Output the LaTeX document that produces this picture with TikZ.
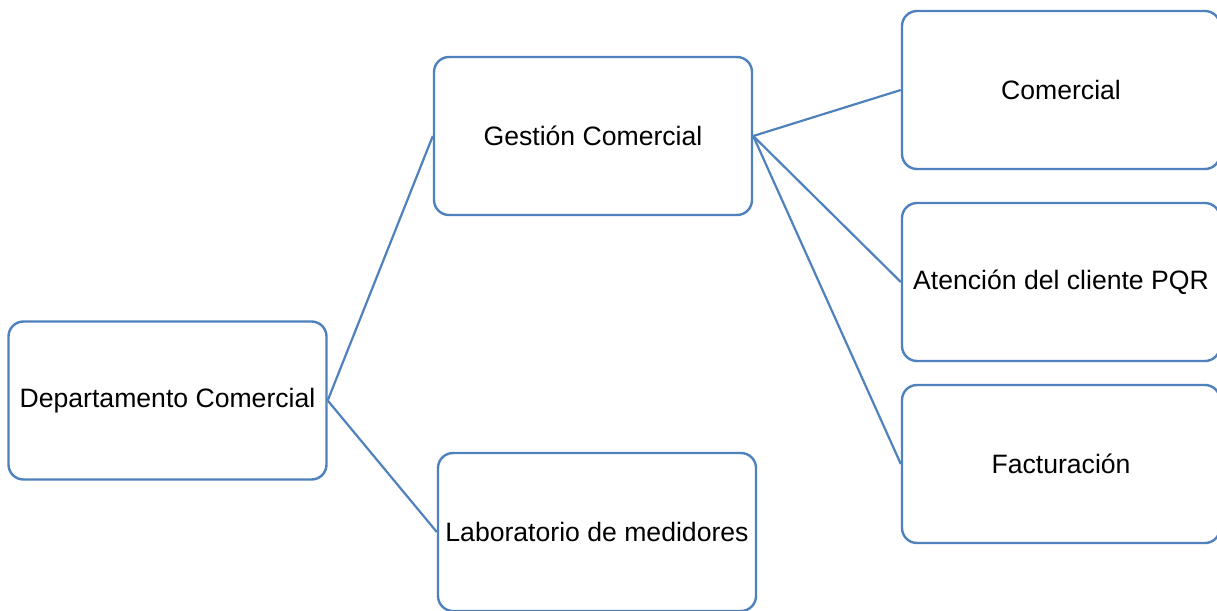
\documentclass[tikz,border=0pt]{standalone}
\usepackage{fontspec}
\setmainfont{Liberation Sans}
\usepackage{tikz}
\definecolor{boxline}{RGB}{79,129,189}
\tikzset{
  unit/.style={draw=boxline,line width=2.4pt,rounded corners=15pt,fill=white,
    minimum width=318pt,minimum height=158pt,inner sep=0pt,
    font=\fontsize{26.6}{30}\selectfont},
  link/.style={draw=boxline,line width=2.2pt},
}

\begin{document}
\begin{tikzpicture}[x=1pt,y=-1pt]
  \clip (0,0) rectangle (1217,610);
  % levels of the org chart
  \node[unit] (dep) at (167.5,400.5) {Departamento Comercial};
  \node[unit] (gest) at (593,136) {Gestión Comercial};
  \node[unit] (lab) at (597,532) {Laboratorio de medidores};
  \node[unit] (com) at (1061,90) {Comercial};
  \node[unit] (pqr) at (1061,282) {Atención del cliente PQR};
  \node[unit] (fac) at (1061,464) {Facturación};
  \draw[link] (dep.east) -- (gest.west);
  \draw[link] (dep.east) -- (lab.west);
  \foreach \n in {com,pqr,fac}{\draw[link] (gest.east) -- (\n.west);}
\end{tikzpicture}
\end{document}
